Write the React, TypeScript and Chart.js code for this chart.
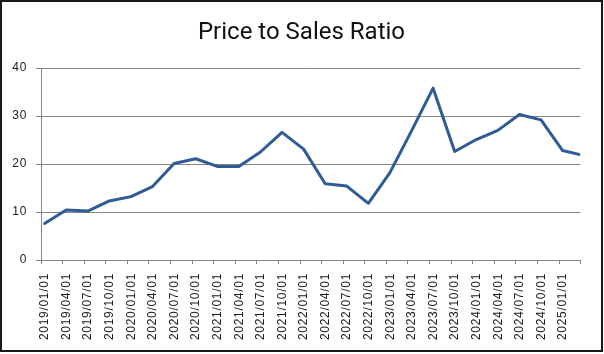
import React, { useEffect, useRef } from "react";
import { Chart, registerables } from "chart.js";

Chart.register(...registerables);

const chartTitle = "Price to Sales Ratio";

const tickLabels = [
  "2019/01/01", "2019/04/01", "2019/07/01", "2019/10/01",
  "2020/01/01", "2020/04/01", "2020/07/01", "2020/10/01",
  "2021/01/01", "2021/04/01", "2021/07/01", "2021/10/01",
  "2022/01/01", "2022/04/01", "2022/07/01", "2022/10/01",
  "2023/01/01", "2023/04/01", "2023/07/01", "2023/10/01",
  "2024/01/01", "2024/04/01", "2024/07/01", "2024/10/01",
  "2025/01/01",
];
const axisEndDate = "2025/04/01";

const pointDates = [
  "2019/01/16", "2019/04/16", "2019/07/16", "2019/10/16",
  "2020/01/16", "2020/04/16", "2020/07/16", "2020/10/16",
  "2021/01/16", "2021/04/16", "2021/07/16", "2021/10/16",
  "2022/01/16", "2022/04/16", "2022/07/16", "2022/10/16",
  "2023/01/16", "2023/04/16", "2023/07/16", "2023/10/16",
  "2024/01/16", "2024/04/16", "2024/07/16", "2024/10/16",
  "2025/01/16", "2025/03/24",
];

const psRatio = [
  7.6, 10.4, 10.2, 12.3, 13.2, 15.3, 20.1, 21.1, 19.5, 19.5, 22.5, 26.6, 23.1,
  15.9, 15.4, 11.8, 18.2, 26.9, 35.8, 22.6, 25.1, 27.0, 30.3, 29.2, 22.8, 22.0,
];

const yTicks = [0, 10, 20, 30, 40];

function monthIndex(d: string): number {
  const [y, m, day] = d.split("/").map(Number);
  return (y - 2019) * 12 + (m - 1) + (day - 1) / 30;
}

export default function App() {
  const ref = useRef<HTMLCanvasElement | null>(null);

  useEffect(() => {
    document.body.style.margin = "0";
    document.body.style.overflow = "hidden";
    const canvas = ref.current;
    if (!canvas) return;

    const deco = {
      id: "deco",
      beforeDraw(chart: any) {
        (chart.ctx as any).letterSpacing = "0.7px";
      },
      afterDraw(chart: any) {
        const ctx = chart.ctx;
        (ctx as any).letterSpacing = "0px";
        ctx.save();
        ctx.fillStyle = "#111";
        ctx.font = "24px Roboto";
        ctx.textAlign = "center";
        ctx.textBaseline = "alphabetic";
        ctx.fillText(chartTitle, 301.5, 38.5);
        ctx.strokeStyle = "#1a1a1a";
        ctx.lineWidth = 2;
        ctx.strokeRect(1, 1, 601, 350);
        ctx.restore();
      },
    };

    const chart = new Chart(canvas, {
      type: "line",
      data: {
        datasets: [
          {
            data: pointDates.map((d, i) => ({ x: monthIndex(d), y: psRatio[i] })),
            borderColor: "#2f5b96",
            borderWidth: 3,
            pointRadius: 0,
            tension: 0,
            fill: false,
            borderJoinStyle: "round",
            borderCapStyle: "round",
          },
        ],
      },
      options: {
        animation: false,
        responsive: false,
        devicePixelRatio: 1,
        layout: { padding: { top: 68, right: 9, bottom: 0, left: 0 } },
        plugins: {
          legend: { display: false },
          tooltip: { enabled: false },
          title: { display: false },
        },
        scales: {
          x: {
            type: "linear",
            min: 0,
            max: monthIndex(axisEndDate),
            afterBuildTicks: (scale: any) => {
              scale.ticks = tickLabels
                .map((t) => ({ value: monthIndex(t) }))
                .concat([{ value: monthIndex(axisEndDate) }]);
            },
            afterFit: (scale: any) => {
              scale.height = 94;
            },
            ticks: {
              autoSkip: false,
              minRotation: 90,
              maxRotation: 90,
              labelOffset: 4,
              padding: 9,
              color: "#1a1a1a",
              font: { family: "'Liberation Sans', Arial", size: 12 },
              callback: (v: any) => {
                const idx = tickLabels.findIndex((t) => Math.abs(monthIndex(t) - v) < 1e-6);
                return idx >= 0 ? tickLabels[idx] : "";
              },
            },
            grid: {
              display: true,
              drawOnChartArea: false,
              drawTicks: true,
              tickLength: 4,
              color: "#868686",
            },
            border: { display: true, color: "#868686", width: 1 },
          },
          y: {
            min: 0,
            max: 40,
            afterBuildTicks: (scale: any) => {
              scale.ticks = yTicks.map((v) => ({ value: v }));
            },
            afterFit: (scale: any) => {
              scale.width = 41;
            },
            ticks: {
              padding: 9,
              color: "#1a1a1a",
              font: { family: "'Liberation Sans', Arial", size: 12 },
            },
            grid: {
              color: "#868686",
              lineWidth: 1,
              tickLength: 5,
              drawTicks: true,
            },
            border: { display: true, color: "#868686", width: 1 },
          },
        },
      },
      plugins: [deco],
    } as any);

    return () => chart.destroy();
  }, []);

  return (
    <div style={{ position: "absolute", left: 0, top: 0, width: 604, height: 354, background: "#fff" }}>
      <canvas ref={ref} width={604} height={354} style={{ display: "block" }} />
    </div>
  );
}
